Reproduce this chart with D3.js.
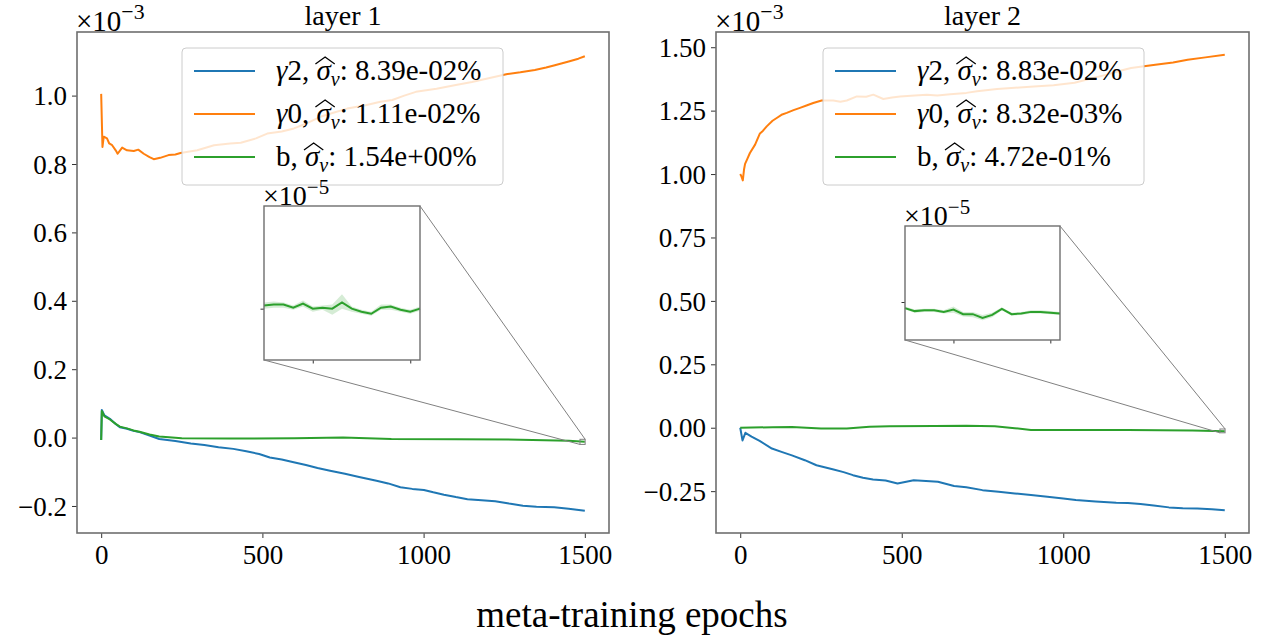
<!DOCTYPE html>
<html lang="en">
<head>
    <meta charset="UTF-8">
    <title>meta-training epochs</title>
    <script src="https://d3js.org/d3.v7.min.js"></script>
    <style>
        body { margin: 0; background: #fff; }
        svg text { font-family: "Liberation Serif", "DejaVu Serif", serif !important; fill: #000; }
    </style>
</head>
<body>
    <script>
        // values, y in units of 1e-3 (insets in 1e-5)
        const layer1Gamma2 = [[0,-0.007],[2,0.081],[10,0.065],[27,0.055],[45,0.04],[58,0.03],[80,0.026],[100,0.02],[119,0.016],[150,0.006],[180,-0.004],[230,-0.01],[278,-0.017],[320,-0.022],[364,-0.028],[410,-0.033],[450,-0.04],[490,-0.048],[523,-0.058],[560,-0.064],[597,-0.072],[635,-0.08],[671,-0.089],[710,-0.097],[756,-0.106],[800,-0.115],[854,-0.126],[890,-0.134],[928,-0.145],[965,-0.15],[1001,-0.153],[1030,-0.16],[1063,-0.167],[1100,-0.174],[1136,-0.18],[1180,-0.183],[1222,-0.186],[1265,-0.193],[1308,-0.199],[1350,-0.202],[1405,-0.204],[1450,-0.208],[1500,-0.214]];
        const layer1Gamma0 = [[0,1.005],[4,0.85],[8,0.88],[18,0.875],[25,0.86],[34,0.855],[45,0.84],[51,0.83],[65,0.848],[80,0.84],[101,0.838],[115,0.842],[132,0.83],[150,0.82],[163,0.814],[183,0.818],[209,0.826],[230,0.828],[246,0.832],[298,0.84],[350,0.855],[400,0.86],[433,0.862],[480,0.875],[515,0.889],[560,0.895],[598,0.904],[640,0.92],[680,0.938],[720,0.95],[763,0.962],[820,0.972],[866,0.982],[903,0.987],[940,1.0],[976,1.011],[1040,1.02],[1100,1.031],[1150,1.04],[1198,1.05],[1260,1.063],[1300,1.068],[1345,1.075],[1380,1.082],[1407,1.089],[1450,1.1],[1480,1.108],[1500,1.115]];
        const layer1Bias = [[0,-0.007],[2,0.078],[10,0.062],[27,0.053],[45,0.04],[58,0.032],[80,0.027],[100,0.021],[119,0.017],[150,0.009],[180,0.003],[250,-0.002],[400,-0.003],[600,-0.002],[750,0.0],[900,-0.004],[1100,-0.005],[1300,-0.006],[1450,-0.009],[1500,-0.012]];

        const layer2Gamma2 = [[0,0.0],[7,-0.05],[16,-0.02],[35,-0.035],[60,-0.052],[98,-0.082],[130,-0.096],[160,-0.109],[200,-0.128],[236,-0.148],[286,-0.164],[320,-0.175],[349,-0.187],[380,-0.197],[411,-0.204],[450,-0.208],[487,-0.22],[537,-0.207],[575,-0.21],[612,-0.213],[662,-0.23],[700,-0.235],[750,-0.246],[800,-0.252],[850,-0.259],[900,-0.265],[951,-0.272],[1000,-0.279],[1039,-0.285],[1100,-0.291],[1164,-0.296],[1200,-0.297],[1239,-0.301],[1280,-0.307],[1327,-0.314],[1370,-0.317],[1415,-0.318],[1460,-0.321],[1500,-0.325]];
        const layer2Gamma0 = [[0,1.0],[4,0.99],[8,0.975],[12,1.02],[15,1.04],[22,1.06],[30,1.083],[46,1.116],[61,1.16],[70,1.17],[82,1.188],[100,1.21],[113,1.221],[130,1.235],[144,1.241],[165,1.252],[185,1.261],[205,1.27],[226,1.28],[252,1.29],[288,1.29],[310,1.285],[330,1.29],[361,1.306],[390,1.305],[412,1.313],[443,1.296],[470,1.302],[495,1.306],[540,1.31],[578,1.313],[610,1.31],[650,1.315],[700,1.32],[733,1.326],[795,1.335],[850,1.34],[909,1.345],[970,1.35],[1035,1.36],[1080,1.375],[1135,1.392],[1170,1.405],[1210,1.418],[1250,1.425],[1285,1.431],[1340,1.44],[1385,1.451],[1440,1.46],[1500,1.47]];
        const layer2Bias = [[0,0.0],[100,0.002],[160,0.003],[250,-0.003],[330,-0.003],[400,0.004],[462,0.006],[600,0.007],[700,0.008],[788,0.006],[850,-0.002],[900,-0.009],[1000,-0.009],[1200,-0.009],[1400,-0.011],[1500,-0.014]];

        // inset: epoch, value, low, high (x 1e-5)
        const inset1Bias = [[1485,-1.47,-1.50,-1.44],[1486,-1.46,-1.49,-1.43],[1487,-1.46,-1.49,-1.44],[1488,-1.49,-1.51,-1.47],[1489,-1.45,-1.48,-1.42],[1490,-1.50,-1.53,-1.48],[1491,-1.49,-1.51,-1.47],[1492,-1.50,-1.56,-1.46],[1493,-1.44,-1.50,-1.36],[1494,-1.50,-1.53,-1.48],[1495,-1.53,-1.55,-1.51],[1496,-1.55,-1.57,-1.53],[1497,-1.49,-1.51,-1.46],[1498,-1.48,-1.51,-1.46],[1499,-1.51,-1.53,-1.49],[1500,-1.53,-1.55,-1.51],[1501,-1.50,-1.52,-1.48]];
        const inset2Bias = [[1485,-1.58,-1.60,-1.56],[1486,-1.62,-1.64,-1.60],[1487,-1.61,-1.63,-1.59],[1488,-1.61,-1.63,-1.59],[1489,-1.63,-1.65,-1.61],[1490,-1.60,-1.64,-1.56],[1491,-1.66,-1.69,-1.63],[1492,-1.66,-1.70,-1.63],[1493,-1.71,-1.74,-1.67],[1494,-1.67,-1.70,-1.64],[1495,-1.59,-1.61,-1.57],[1496,-1.66,-1.68,-1.64],[1497,-1.65,-1.67,-1.63],[1498,-1.63,-1.65,-1.61],[1499,-1.63,-1.65,-1.61],[1500,-1.64,-1.66,-1.62],[1501,-1.65,-1.67,-1.63]];

        const xTicks = [0, 500, 1000, 1500];
        const layer1YTicks = [-0.2, 0.0, 0.2, 0.4, 0.6, 0.8, 1.0];
        const layer2YTicks = [-0.25, 0.0, 0.25, 0.5, 0.75, 1.0, 1.25, 1.5];
        const layer1Legend = [["γ", "2", "8.39e-02%"], ["γ", "0", "1.11e-02%"], ["", "b", "1.54e+00%"]];
        const layer2Legend = [["γ", "2", "8.83e-02%"], ["γ", "0", "8.32e-03%"], ["", "b", "4.72e-01%"]];
        const colors = ["#1f77b4", "#ff7f0e", "#2ca02c"];

        const panels = [
            { title: "layer 1", x0: 77, x1: 609, y0: 32, y1: 533, yDomain: [-0.279, 1.186], yTicks: layer1YTicks, fmt: ".1f",
              series: [layer1Gamma2, layer1Gamma0, layer1Bias], legend: layer1Legend, lx: 182, inset: inset1Bias,
              ix0: 264, ix1: 420, iy0: 206, iy1: 360 },
            { title: "layer 2", x0: 716, x1: 1249, y0: 32, y1: 533, yDomain: [-0.415, 1.56], yTicks: layer2YTicks, fmt: ".2f",
              series: [layer2Gamma2, layer2Gamma0, layer2Bias], legend: layer2Legend, lx: 823, inset: inset2Bias,
              ix0: 905, ix1: 1060, iy0: 226, iy1: 340 }
        ];

        const width = 1263;
        const height = 642;
        const spine = "#6e6e6e";
        const serif = "'Liberation Serif', 'DejaVu Serif', serif";

        const svg = d3.select("body")
            .append("svg")
            .attr("width", width)
            .attr("height", height)
            .attr("font-family", serif);

        function offsetText(g, x, y, exp, size) {
            const t = g.append("text").attr("x", x).attr("y", y).style("font-size", size + "px");
            t.append("tspan").text("×10");
            t.append("tspan").attr("dy", -size * 0.4).style("font-size", (size * 0.75) + "px").text(exp);
        }

        panels.forEach((p, pi) => {
            const g = svg.append("g");
            const x = d3.scaleLinear().domain([-75, 1575]).range([p.x0, p.x1]);
            const y = d3.scaleLinear().domain(p.yDomain).range([p.y1, p.y0]);

            const clipId = "clip" + pi;
            svg.append("clipPath").attr("id", clipId)
                .append("rect").attr("x", p.x0).attr("y", p.y0)
                .attr("width", p.x1 - p.x0).attr("height", p.y1 - p.y0);

            // axes
            const xAxis = g.append("g").attr("transform", `translate(0,${p.y1})`)
                .call(d3.axisBottom(x).tickValues(xTicks).tickSize(5).tickPadding(3).tickFormat(d3.format("d")));
            const yAxis = g.append("g").attr("transform", `translate(${p.x0},0)`)
                .call(d3.axisLeft(y).tickValues(p.yTicks).tickSize(5).tickPadding(5).tickFormat(d3.format(p.fmt)));
            [xAxis, yAxis].forEach(a => {
                a.attr("font-family", serif).attr("font-size", null);
                a.select(".domain").remove();
                a.selectAll("line").attr("stroke", "#333").attr("stroke-width", 1);
                a.selectAll("text").style("font-size", "27px");
            });
            xAxis.selectAll("text").attr("dy", "0.85em");
            yAxis.selectAll("text").attr("dy", "0.34em");

            // lines
            const line = d3.line().x(d => x(d[0])).y(d => y(d[1]));
            const lines = g.append("g").attr("clip-path", `url(#${clipId})`);
            p.series.forEach((s, i) => {
                lines.append("path")
                    .datum(s)
                    .attr("fill", "none")
                    .attr("stroke", colors[i])
                    .attr("stroke-width", 2)
                    .attr("stroke-linejoin", "round")
                    .attr("d", line);
            });

            // frame
            g.append("rect")
                .attr("x", p.x0).attr("y", p.y0)
                .attr("width", p.x1 - p.x0).attr("height", p.y1 - p.y0)
                .attr("fill", "none").attr("stroke", spine).attr("stroke-width", 1.6);

            // title and offset
            g.append("text")
                .attr("x", (p.x0 + p.x1) / 2).attr("y", 25)
                .attr("text-anchor", "middle")
                .style("font-size", "28px")
                .text(p.title);
            offsetText(g, p.x0 - 1, 31, "−3", 29);

            // legend
            const lg = g.append("g");
            lg.append("rect")
                .attr("x", p.lx).attr("y", 48).attr("width", 321).attr("height", 137)
                .attr("rx", 4)
                .attr("fill", "#fff").attr("fill-opacity", 0.8)
                .attr("stroke", "#cccccc").attr("stroke-width", 1);
            p.legend.forEach((e, i) => {
                const cy = 71 + i * 43;
                lg.append("line")
                    .attr("x1", p.lx + 12).attr("x2", p.lx + 73)
                    .attr("y1", cy).attr("y2", cy)
                    .attr("stroke", colors[i]).attr("stroke-width", 2.2);
                const t = lg.append("text")
                    .attr("x", p.lx + 94).attr("y", cy + 9)
                    .style("font-size", "29px");
                let pre;
                if (e[0]) {
                    t.append("tspan").style("font-style", "italic").text(e[0]);
                    t.append("tspan").text(e[1] + ", ");
                    pre = (e[0] + e[1] + ", ").length;
                } else {
                    t.append("tspan").text(e[1] + ", ");
                    pre = (e[1] + ", ").length;
                }
                t.append("tspan").style("font-style", "italic").text("σ");
                t.append("tspan").attr("dy", 6).style("font-style", "italic").style("font-size", "20px").text("ν");
                t.append("tspan").attr("dy", -6).text(":  " + e[2]);
                // wide hat over sigma
                const ext = t.node().getExtentOfChar(pre);
                const hx = ext.x - 1, hw = ext.width + 5, hb = cy + 9 - 16;
                lg.append("path")
                    .attr("d", `M${hx},${hb} L${hx + hw / 2},${hb - 7} L${hx + hw},${hb}`)
                    .attr("fill", "none").attr("stroke", "#000").attr("stroke-width", 1.3);
            });

            // inset
            const ix = d3.scaleLinear().domain([1485, 1501]).range([p.ix0, p.ix1]);
            const iy = d3.scaleLinear().domain([-2.0, -0.5]).range([p.iy1, p.iy0]);
            const ig = g.append("g");
            ig.append("rect")
                .attr("x", p.ix0).attr("y", p.iy0)
                .attr("width", p.ix1 - p.ix0).attr("height", p.iy1 - p.iy0)
                .attr("fill", "#fff");
            ig.append("path")
                .datum(p.inset)
                .attr("fill", colors[2]).attr("fill-opacity", 0.2)
                .attr("d", d3.area().x(d => ix(d[0])).y0(d => iy(d[2])).y1(d => iy(d[3])));
            ig.append("path")
                .datum(p.inset)
                .attr("fill", "none").attr("stroke", colors[2]).attr("stroke-width", 2)
                .attr("d", d3.line().x(d => ix(d[0])).y(d => iy(d[1])));
            const ixa = ig.append("g").attr("transform", `translate(0,${p.iy1})`)
                .call(d3.axisBottom(ix).tickValues([1490, 1500]).tickSize(3.5).tickFormat(""));
            const iya = ig.append("g").attr("transform", `translate(${p.ix0},0)`)
                .call(d3.axisLeft(iy).tickValues([-1.5]).tickSize(3.5).tickFormat(""));
            [ixa, iya].forEach(a => {
                a.select(".domain").remove();
                a.selectAll("line").attr("stroke", "#333");
            });
            ig.append("rect")
                .attr("x", p.ix0).attr("y", p.iy0)
                .attr("width", p.ix1 - p.ix0).attr("height", p.iy1 - p.iy0)
                .attr("fill", "none").attr("stroke", spine).attr("stroke-width", 1.4);
            offsetText(ig, p.ix0 - 1, p.iy0 - 1, "−5", 28);

            // zoom box on the main axes and the connectors
            const bx0 = x(1485), bx1 = x(1501), by0 = y(-0.5 / 100), by1 = y(-2.0 / 100);
            g.append("rect")
                .attr("x", bx0).attr("y", by0).attr("width", bx1 - bx0).attr("height", by1 - by0)
                .attr("fill", "none").attr("stroke", "#808080").attr("stroke-width", 1);
            g.append("line")
                .attr("x1", p.ix1).attr("y1", p.iy0).attr("x2", bx1).attr("y2", by0)
                .attr("stroke", "#808080").attr("stroke-width", 1);
            g.append("line")
                .attr("x1", p.ix0).attr("y1", p.iy1).attr("x2", bx0).attr("y2", by1)
                .attr("stroke", "#808080").attr("stroke-width", 1);
        });

        svg.append("text")
            .attr("x", 632).attr("y", 627)
            .attr("text-anchor", "middle")
            .style("font-size", "37px")
            .text("meta-training epochs");
    </script>
</body>
</html>
